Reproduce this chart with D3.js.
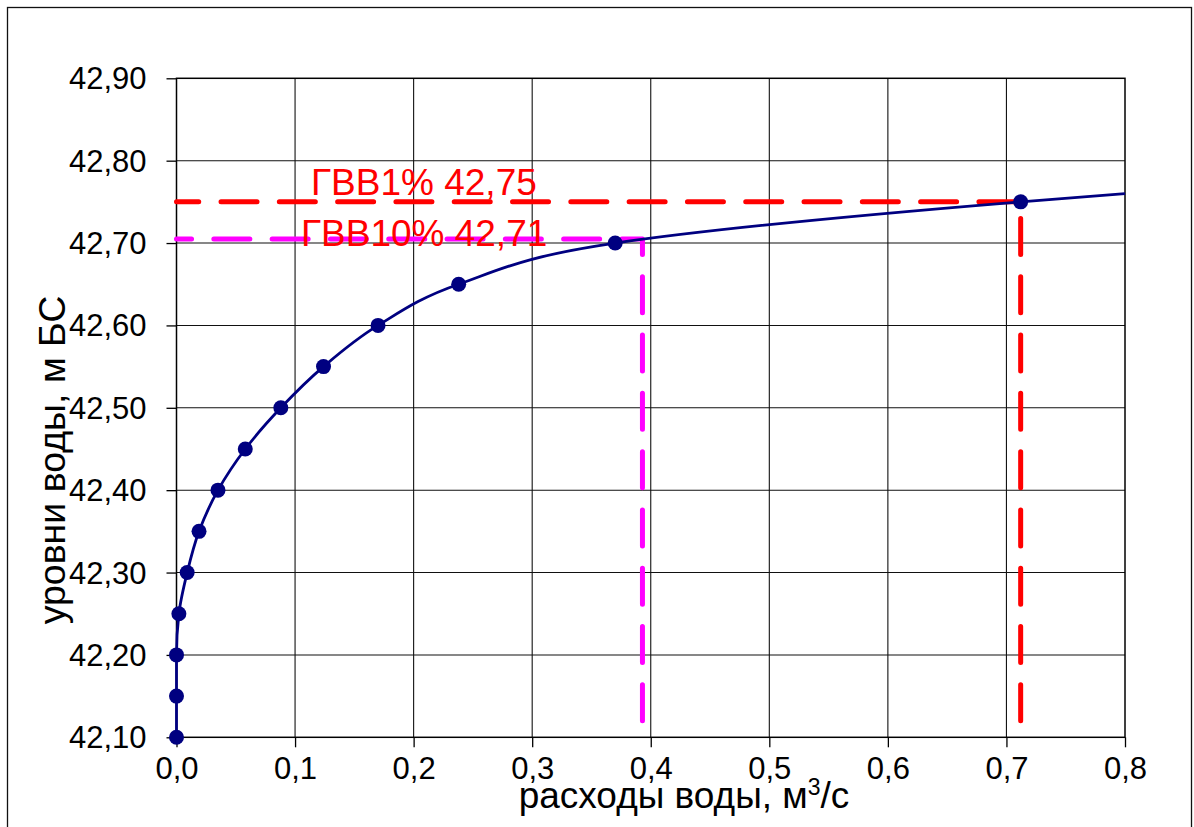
<!DOCTYPE html>
<html>
<head>
<meta charset="utf-8">
<script src="https://cdn.jsdelivr.net/npm/d3@7"></script>
<style>
  body { margin: 0; background: #fff; }
  svg { display: block; }
  text { font-family: "Liberation Sans", Arial, sans-serif; }
</style>
</head>
<body>
<svg id="chart" width="1194" height="827"></svg>
<script>
// Measured rating curve: water discharge (m3/s) vs water level (m, Baltic system)
const discharge = [0, 0, 0, 0.002, 0.009, 0.019, 0.035, 0.058, 0.088, 0.124, 0.170, 0.238, 0.370, 0.712];
const level     = [42.10, 42.15, 42.20, 42.25, 42.30, 42.35, 42.40, 42.45, 42.50, 42.55, 42.60, 42.65, 42.70, 42.75];
// Extrapolated end of the curve (no marker)
const curveTailQ = [0.8];
const curveTailH = [42.76];

// Design flood levels and the discharges
const floodNames      = ["ГВВ1%", "ГВВ10%"];
const floodLevels     = [42.75, 42.705];
const floodDischarges = [0.712, 0.393];
const dropLineBase    = 42.12;

const xTicks = [0, 0.1, 0.2, 0.3, 0.4, 0.5, 0.6, 0.7, 0.8];
const yTicks = [42.1, 42.2, 42.3, 42.4, 42.5, 42.6, 42.7, 42.8, 42.9];

const svg = d3.select("#chart");
const plot = { left: 176.5, top: 78.3, right: 1125, bottom: 737.3 };

const x = d3.scaleLinear().domain([0, 0.8]).range([plot.left, plot.right]);
const y = d3.scaleLinear().domain([42.1, 42.9]).range([plot.bottom, plot.top]);

const comma = (s) => s.replace(".", ",");
const fmtLevel = (v) => comma((Math.round(v * 100 + 1e-6) / 100).toFixed(2));

// outer chart frame
svg.append("rect")
  .attr("x", 7.5).attr("y", 7.5)
  .attr("width", 1184).attr("height", 840)
  .attr("fill", "#fff").attr("stroke", "#111").attr("stroke-width", 1.3);

// grid
const grid = svg.append("g").attr("stroke", "#111").attr("stroke-width", 1.1);
grid.selectAll("line.v").data(xTicks.slice(1, -1)).join("line")
  .attr("x1", d => x(d)).attr("x2", d => x(d))
  .attr("y1", plot.top).attr("y2", plot.bottom);
grid.selectAll("line.h").data(yTicks.slice(1, -1)).join("line")
  .attr("x1", plot.left).attr("x2", plot.right)
  .attr("y1", d => y(d)).attr("y2", d => y(d));

// plot area border
svg.append("rect")
  .attr("x", plot.left).attr("y", plot.top)
  .attr("width", plot.right - plot.left).attr("height", plot.bottom - plot.top)
  .attr("fill", "none").attr("stroke", "#000").attr("stroke-width", 1.5);

// axes
const yAxis = svg.append("g")
  .attr("transform", `translate(${plot.left},0)`)
  .call(d3.axisLeft(y).tickValues(yTicks).tickSize(10).tickPadding(20)
        .tickFormat(d => comma(d3.format(".2f")(d))));
const xAxis = svg.append("g")
  .attr("transform", `translate(0,${plot.bottom})`)
  .call(d3.axisBottom(x).tickValues(xTicks).tickSize(10).tickPadding(9)
        .tickFormat(d => comma(d3.format(".1f")(d))));
[yAxis, xAxis].forEach(a => {
  a.select(".domain").remove();
  a.selectAll(".tick line").attr("stroke", "#000").attr("stroke-width", 1.3);
  a.selectAll(".tick text").attr("fill", "#000")
    .style("font-family", '"Liberation Sans", Arial, sans-serif')
    .style("font-size", "31px");
});
yAxis.selectAll(".tick text").attr("dy", "0.34em");
xAxis.selectAll(".tick text").attr("dy", "0.72em");

// dashed drop lines from the flood levels to the curve and down
const dropColors = ["#ff0000", "#ff00ff"];
const dropLine = d3.line().x(d => x(d[0])).y(d => y(d[1]));
floodLevels.forEach((h, i) => {
  const q = floodDischarges[i];
  svg.append("path")
    .attr("d", dropLine([[q, dropLineBase], [q, h], [0, h]]))
    .attr("fill", "none")
    .attr("stroke", dropColors[i])
    .attr("stroke-width", 5)
    .attr("stroke-linecap", "round")
    .attr("stroke-linejoin", "round")
    .attr("stroke-dasharray", "36 22.3");
});

// rating curve
const curvePts = discharge.map((q, i) => [q, level[i]])
  .concat(curveTailQ.map((q, i) => [q, curveTailH[i]]));
svg.append("path")
  .attr("d", d3.line().x(d => x(d[0])).y(d => y(d[1])).curve(d3.curveMonotoneY)(curvePts))
  .attr("fill", "none")
  .attr("stroke", "#000080")
  .attr("stroke-width", 2.8);

svg.append("g").selectAll("circle")
  .data(discharge.map((q, i) => [q, level[i]]))
  .join("circle")
  .attr("cx", d => x(d[0])).attr("cy", d => y(d[1]))
  .attr("r", 7.5).attr("fill", "#000080");

// flood level labels
const labelAnchor = [[0.1135, -6.5], [0.1050, 7.5]];
floodLevels.forEach((h, i) => {
  svg.append("text")
    .attr("x", x(labelAnchor[i][0]))
    .attr("y", y(h) + labelAnchor[i][1])
    .attr("fill", "#ff0000")
    .style("font-size", "37px")
    .text(`${floodNames[i]} ${fmtLevel(h)}`);
});

// axis titles
svg.append("text")
  .attr("transform", "translate(65,460) rotate(-90)")
  .attr("text-anchor", "middle")
  .attr("fill", "#000")
  .style("font-size", "37.5px")
  .text("уровни воды, м БС");

const xt = svg.append("text")
  .attr("x", 684).attr("y", 808)
  .attr("text-anchor", "middle")
  .attr("fill", "#000")
  .style("font-size", "37px");
xt.append("tspan").text("расходы воды, м");
xt.append("tspan").attr("dy", -13).style("font-size", "23px").text("3");
xt.append("tspan").attr("dy", 13).text("/с");
</script>
</body>
</html>
